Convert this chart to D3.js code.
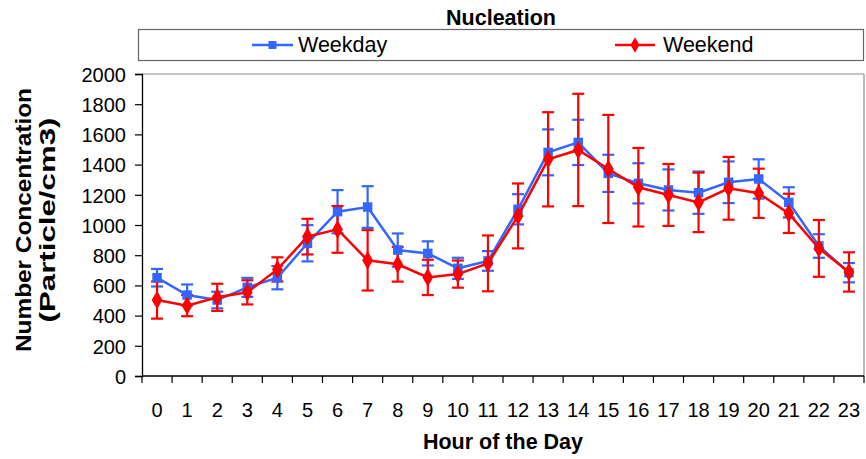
<!DOCTYPE html>
<html>
<head>
<meta charset="utf-8">
<script src="https://cdn.jsdelivr.net/npm/d3@7"></script>
<style>
  html, body { margin: 0; padding: 0; background: #fff; }
  svg text { font-family: "Liberation Sans", Arial, sans-serif; fill: #000; }
</style>
</head>
<body>
<svg id="chart" width="866" height="459"></svg>
<script>
const hours = ["0","1","2","3","4","5","6","7","8","9","10","11","12","13","14","15","16","17","18","19","20","21","22","23"];
const weekday = [651,536,503,587,651,879,1088,1119,834,812,713,762,1104,1481,1547,1342,1276,1232,1214,1283,1305,1150,861,684];
const weekdayErr = [58,70,55,63,77,120,143,138,110,80,70,65,100,152,150,123,133,136,140,138,130,100,78,64];
const weekend = [503,466,521,554,706,923,971,766,740,653,675,746,1060,1435,1497,1371,1250,1199,1150,1243,1210,1077,845,689];
const weekendErr = [123,70,90,80,80,118,155,200,115,117,90,185,215,312,372,358,260,205,197,208,163,130,188,130];
const yTicks = [0,200,400,600,800,1000,1200,1400,1600,1800,2000];
const seriesNames = ["Weekday","Weekend"];
const colors = ["#3366FF","#FF0000"];

const svg = d3.select("#chart");
const pL = 142, pR = 864, pT = 74, pB = 376;

const x = d3.scaleBand().domain(hours).range([pL, pR]).padding(0);
const y = d3.scaleLinear().domain([0, 2000]).range([pB, pT]);
const cx = h => x(h) + x.bandwidth() / 2;

// plot frame (top/right gray)
svg.append("line").attr("x1", pL).attr("x2", pR).attr("y1", pT).attr("y2", pT)
  .attr("stroke", "#8c8c8c").attr("stroke-width", 1.2);
svg.append("line").attr("x1", pR).attr("x2", pR).attr("y1", pT).attr("y2", pB)
  .attr("stroke", "#8c8c8c").attr("stroke-width", 1.2);

// y axis
const yAxis = d3.axisLeft(y).tickValues(yTicks).tickSize(7).tickPadding(9).tickFormat(d3.format("d"));
const gy = svg.append("g").attr("transform", `translate(${pL},0)`).call(yAxis);
gy.select(".domain").attr("stroke", "#000").attr("stroke-width", 1.3);
gy.selectAll(".tick line").attr("stroke", "#000").attr("stroke-width", 1.2);
gy.selectAll("text").style("font-size", "20px").attr("dy", "0.36em");

// x axis: ticks between categories
const gx = svg.append("g").attr("transform", `translate(0,${pB})`);
gx.append("line").attr("x1", pL).attr("x2", pR).attr("y1", 0).attr("y2", 0)
  .attr("stroke", "#000").attr("stroke-width", 1.3);
const boundaries = hours.map(h => x(h)).concat([pR]);
gx.selectAll("line.tk").data(boundaries).join("line").attr("class", "tk")
  .attr("x1", d => d).attr("x2", d => d).attr("y1", 0).attr("y2", 7)
  .attr("stroke", "#000").attr("stroke-width", 1.2);
gx.selectAll("text.lab").data(hours).join("text").attr("class", "lab")
  .attr("x", d => cx(d)).attr("y", 41).attr("text-anchor", "middle")
  .style("font-size", "20px").text(d => d);

// axis titles
svg.append("text").attr("x", 503).attr("y", 449).attr("text-anchor", "middle")
  .style("font-size", "21.5px").style("font-weight", "bold").text("Hour of the Day");
const yt = svg.append("g").attr("transform", "translate(0,220) rotate(-90)");
yt.append("text").attr("x", 0).attr("y", 31).attr("text-anchor", "middle")
  .style("font-size", "22px").style("font-weight", "bold")
  .attr("textLength", 264).attr("lengthAdjust", "spacingAndGlyphs")
  .text("Number Concentration");
yt.append("text").attr("x", 0).attr("y", 55).attr("text-anchor", "middle")
  .style("font-size", "22px").style("font-weight", "bold")
  .attr("textLength", 205).attr("lengthAdjust", "spacingAndGlyphs")
  .text("(Particle/cm3)");

// title
svg.append("text").attr("x", 501).attr("y", 25).attr("text-anchor", "middle")
  .style("font-size", "21.5px").style("font-weight", "bold").text("Nucleation");

// legend
svg.append("rect").attr("x", 138.5).attr("y", 29.5).attr("width", 725).attr("height", 31)
  .attr("fill", "#fff").attr("stroke", "#666").attr("stroke-width", 1.2);
const legendX = [[252, 293, 298], [615, 655, 663]];

const series = [
  { name: seriesNames[0], vals: weekday, err: weekdayErr, color: colors[0], shape: d3.symbolSquare, size: 90 },
  { name: seriesNames[1], vals: weekend, err: weekendErr, color: colors[1], shape: d3.symbolDiamond, size: 100 }
];

series.forEach((s, i) => {
  const [l1, l2, tx] = legendX[i];
  svg.append("line").attr("x1", l1).attr("x2", l2).attr("y1", 45).attr("y2", 45)
    .attr("stroke", s.color).attr("stroke-width", 2.5);
  svg.append("path").attr("d", d3.symbol().type(s.shape).size(s.size * 0.7)())
    .attr("transform", `translate(${(l1 + l2) / 2},45)`).attr("fill", s.color);
  svg.append("text").attr("x", tx).attr("y", 52).style("font-size", "21.5px").text(s.name);
});

// error bars
series.forEach(s => {
  const g = svg.append("g");
  hours.forEach((h, j) => {
    const px = cx(h), yT = y(s.vals[j] + s.err[j]), yB = y(s.vals[j] - s.err[j]);
    g.append("line").attr("x1", px).attr("x2", px).attr("y1", yT).attr("y2", yB)
      .attr("stroke", s.color).attr("stroke-width", 2.2);
    [yT, yB].forEach(yy => g.append("line").attr("x1", px - 6).attr("x2", px + 6)
      .attr("y1", yy).attr("y2", yy).attr("stroke", s.color).attr("stroke-width", 2.2));
  });
});

// lines and markers
series.forEach(s => {
  const line = d3.line().x((d, j) => cx(hours[j])).y(d => y(d));
  svg.append("path").datum(s.vals).attr("d", line).attr("fill", "none")
    .attr("stroke", s.color).attr("stroke-width", 2.5);
  svg.append("g").selectAll("path").data(s.vals).join("path")
    .attr("d", d3.symbol().type(s.shape).size(s.size)())
    .attr("transform", (d, j) => `translate(${cx(hours[j])},${y(d)})`)
    .attr("fill", s.color);
});
</script>
</body>
</html>
